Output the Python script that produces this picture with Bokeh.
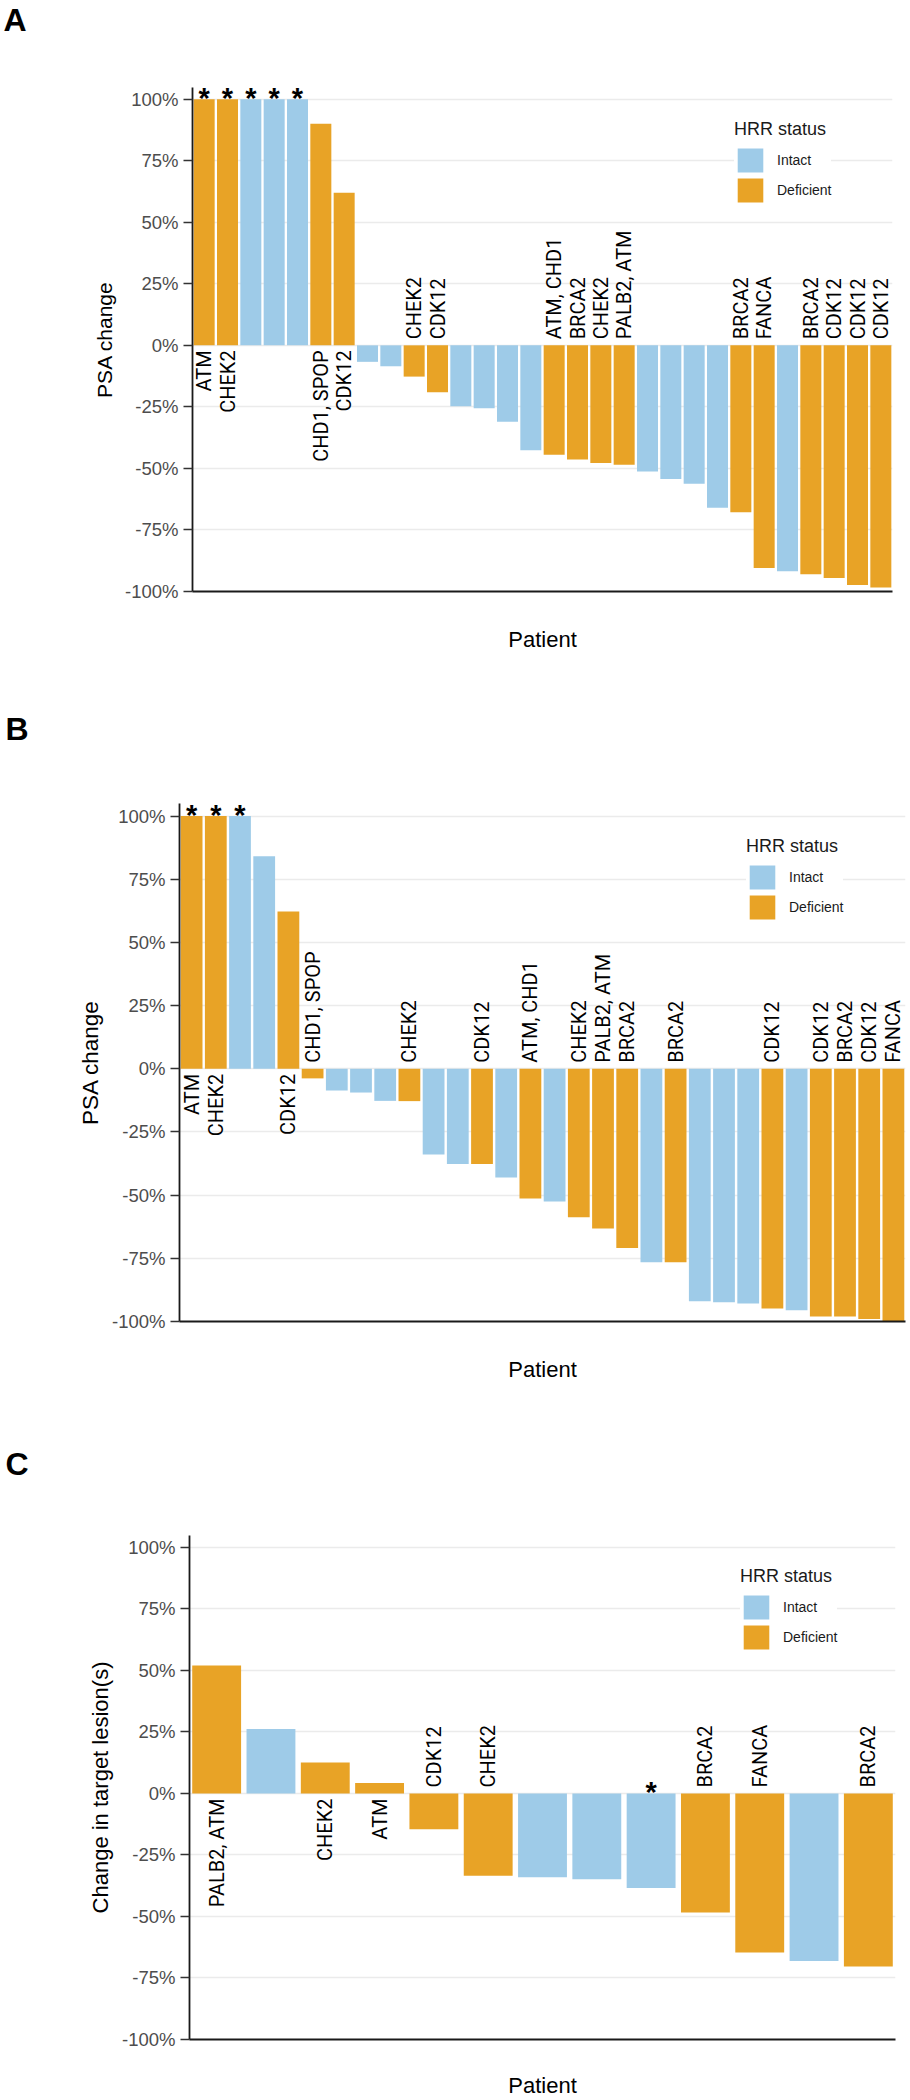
import math
from bokeh.plotting import figure
from bokeh.models import (ColumnDataSource, CDSView, BooleanFilter, GroupFilter, Range1d,
                          FixedTicker, PrintfTickFormatter, Legend, LegendItem, Title)
from bokeh.embed import file_html
from bokeh.resources import INLINE
from bokeh.core.properties import value

# ---------------- data ----------------
a_values = [100, 100, 100, 100, 100, 90, 62, -6.7, -8.5, -12.7, -19.1, -24.7, -25.6, -31, -42.6,
            -44.4, -46.4, -47.8, -48.5, -51.2, -54.3, -56.2, -66, -67.8, -90.5, -91.8, -93, -94.5,
            -97.4, -98.4]
a_status = ["Deficient", "Deficient", "Intact", "Intact", "Intact", "Deficient", "Deficient",
            "Intact", "Intact", "Deficient", "Deficient", "Intact", "Intact", "Intact", "Intact",
            "Deficient", "Deficient", "Deficient", "Deficient", "Intact", "Intact", "Intact",
            "Intact", "Deficient", "Deficient", "Intact", "Deficient", "Deficient", "Deficient",
            "Deficient"]
a_genes = ["ATM", "CHEK2", "", "", "", "CHD1, SPOP", "CDK12", "", "", "CHEK2", "CDK12", "", "",
           "", "", "ATM, CHD1", "BRCA2", "CHEK2", "PALB2, ATM", "", "", "", "", "BRCA2", "FANCA",
           "", "BRCA2", "CDK12", "CDK12", "CDK12"]
a_stars = [1, 1, 1, 1, 1] + [0] * 25

b_values = [100, 100, 100, 84.1, 62.2, -3.8, -8.6, -9.4, -12.7, -12.8, -33.9, -37.7, -37.7, -43,
            -51.3, -52.5, -58.7, -63.2, -70.9, -76.6, -76.6, -92, -92.4, -92.9, -94.9, -95.5,
            -98, -98, -99, -100]
b_status = ["Deficient", "Deficient", "Intact", "Intact", "Deficient", "Deficient", "Intact",
            "Intact", "Intact", "Deficient", "Intact", "Intact", "Deficient", "Intact",
            "Deficient", "Intact", "Deficient", "Deficient", "Deficient", "Intact", "Deficient",
            "Intact", "Intact", "Intact", "Deficient", "Intact", "Deficient", "Deficient",
            "Deficient", "Deficient"]
b_genes = ["ATM", "CHEK2", "", "", "CDK12", "CHD1, SPOP", "", "", "", "CHEK2", "", "", "CDK12",
           "", "ATM, CHD1", "", "CHEK2", "PALB2, ATM", "BRCA2", "", "BRCA2", "", "", "", "CDK12",
           "", "CDK12", "BRCA2", "CDK12", "FANCA"]
b_stars = [1, 1, 1] + [0] * 27

c_values = [52, 26.2, 12.6, 4.3, -14.5, -33.4, -34.1, -34.9, -38.4, -48.4, -64.6, -68.1, -70.3]
c_status = ["Deficient", "Intact", "Deficient", "Deficient", "Deficient", "Deficient", "Intact",
            "Intact", "Intact", "Deficient", "Deficient", "Intact", "Deficient"]
c_genes = ["PALB2, ATM", "", "CHEK2", "ATM", "CDK12", "CHEK2", "", "", "", "BRCA2", "FANCA", "",
           "BRCA2"]
c_stars = [0, 0, 0, 0, 0, 0, 0, 0, 1, 0, 0, 0, 0]

y_ticks = [-100, -75, -50, -25, 0, 25, 50, 75, 100]

# ---------------- style ----------------
BLUE = "#9ECBE8"
ORANGE = "#E8A326"
FONT = "Liberation Sans"
GENE_FONT = "Roboto"
W = 910


def make_panel(letter, ylabel, values, status, genes, stars, cfg):
    n = len(values)
    xs = list(range(1, n + 1))
    src = ColumnDataSource(dict(x=xs, top=values, status=status, gene=genes))
    ytop = cfg["ytop"]

    p = figure(width=W, height=cfg["h"], output_backend="svg", toolbar_location=None,
               x_range=Range1d(0.5, n + 0.5), y_range=Range1d(-100, ytop),
               min_border_left=cfg["left"], min_border_right=cfg["right"],
               min_border_top=cfg["top"], min_border_bottom=cfg["bottom"])
    p.outline_line_color = None
    p.background_fill_color = "white"
    p.border_fill_color = "white"
    p.xgrid.visible = False
    p.ygrid.grid_line_color = "#EBEBEB"
    p.ygrid.grid_line_width = 1.5

    # spacer between frame and the panel letter, then the panel letter as title
    p.add_layout(Title(text=" ", text_font_size="2px", standoff=cfg["spacer"]), "above")
    p.title.text = letter
    p.title.align = "left"
    p.title.vertical_align = "top"
    p.title.text_font = FONT
    p.title.text_font_style = "bold"
    p.title.text_font_size = "32px"
    p.title.text_color = "black"
    p.title.offset = cfg["letter_x"] - cfg["left"]
    p.title.standoff = cfg["title_standoff"]

    # y axis
    ya = p.yaxis[0]
    ya.ticker = FixedTicker(ticks=y_ticks)
    ya.formatter = PrintfTickFormatter(format="%d%%")
    ya.axis_line_color = "#1A1A1A"
    ya.axis_line_width = 1.8
    ya.major_tick_out = 9
    ya.major_tick_in = 0
    ya.minor_tick_out = 0
    ya.minor_tick_in = 0
    ya.major_tick_line_color = "#333333"
    ya.major_tick_line_width = 1.5
    ya.major_label_text_font = FONT
    ya.major_label_text_font_size = "18.5px"
    ya.major_label_text_color = "#4D4D4D"
    ya.major_label_standoff = 5
    ya.axis_label = ylabel
    ya.axis_label_text_font = FONT
    ya.axis_label_text_font_size = cfg["ylab_size"]
    ya.axis_label_text_font_style = "normal"
    ya.axis_label_text_color = "black"
    ya.axis_label_standoff = 6

    # x axis
    xa = p.xaxis[0]
    xa.ticker = FixedTicker(ticks=[])
    xa.axis_line_color = "#1A1A1A"
    xa.axis_line_width = 1.8
    xa.major_tick_out = 0
    xa.major_tick_in = 0
    xa.minor_tick_out = 0
    xa.axis_label = "Patient"
    xa.axis_label_text_font = FONT
    xa.axis_label_text_font_size = "22px"
    xa.axis_label_text_font_style = "normal"
    xa.axis_label_text_color = "black"
    xa.axis_label_standoff = cfg["xlab_standoff"]

    # bars
    r_int = p.vbar(x="x", top="top", bottom=0, width=0.9, source=src,
                   view=CDSView(filter=GroupFilter(column_name="status", group="Intact")),
                   fill_color=BLUE, line_color=None)
    r_def = p.vbar(x="x", top="top", bottom=0, width=0.9, source=src,
                   view=CDSView(filter=GroupFilter(column_name="status", group="Deficient")),
                   fill_color=ORANGE, line_color=None)

    # gene labels
    pos = [v >= 0 for v in values]
    neg = [v < 0 for v in values]
    p.text(x="x", y=0, text="gene", source=src, view=CDSView(filter=BooleanFilter(pos)),
           angle=math.pi / 2, text_align="right", text_baseline="middle", y_offset=5,
           text_font=value(GENE_FONT), text_font_size="20px", text_color="black")
    p.text(x="x", y=0, text="gene", source=src, view=CDSView(filter=BooleanFilter(neg)),
           angle=math.pi / 2, text_align="left", text_baseline="middle", y_offset=-6,
           text_font=value(GENE_FONT), text_font_size="20px", text_color="black")

    # asterisks
    sx = [xs[i] for i in range(n) if stars[i]]
    sy = [max(values[i], 0) for i in range(n) if stars[i]]
    p.text(x=sx, y=sy, text=["*"] * len(sx), text_align="center", text_baseline="alphabetic",
           y_offset=-1, text_font=value(FONT), text_font_style="bold", text_font_size="29px",
           text_color="black")

    # legend
    legend = Legend(items=[LegendItem(label="Intact", renderers=[r_int]),
                           LegendItem(label="Deficient", renderers=[r_def])],
                    title="HRR status", location=cfg["legend"],
                    title_text_font=FONT, title_text_font_size="18px",
                    title_text_font_style="normal", title_text_color="#1A1A1A",
                    title_standoff=5,
                    label_text_font=FONT, label_text_font_size="14px",
                    label_text_color="#1A1A1A",
                    glyph_width=32, glyph_height=30, spacing=-3, label_standoff=11,
                    padding=10, margin=0, border_line_color=None,
                    background_fill_color="white", background_fill_alpha=1.0)
    p.add_layout(legend)
    return p


pa = make_panel("A", "PSA change", a_values, a_status, a_genes, a_stars,
                dict(h=680, top=87, bottom=89, left=192, right=18, ytop=104.75,
                     letter_x=3, title_standoff=0, spacer=44, legend=(542, 386),
                     ylab_size="21px", xlab_standoff=35))
pb = make_panel("B", "PSA change", b_values, b_status, b_genes, b_stars,
                dict(h=740, top=122, bottom=99, left=179, right=5, ytop=104.97,
                     letter_x=5, title_standoff=61, spacer=20, legend=(567, 399),
                     ylab_size="22.5px", xlab_standoff=35))
pc = make_panel("C", "Change in target lesion(s)", c_values, c_status, c_genes, c_stars,
                dict(h=680, top=114, bottom=60, left=189, right=15, ytop=104.86,
                     letter_x=5, title_standoff=51, spacer=22, legend=(551, 387),
                     ylab_size="22px", xlab_standoff=33))

# three independent roots stacked on the page (keeps each panel's own frame position)
open("out.html", "w").write(file_html([pa, pb, pc], INLINE))
